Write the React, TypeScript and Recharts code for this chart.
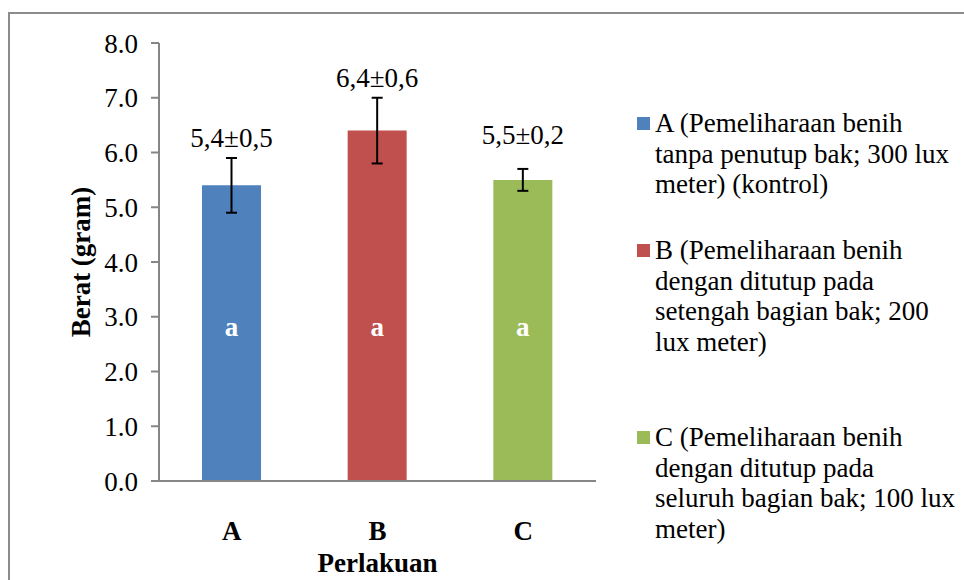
import { BarChart, Bar, XAxis, YAxis, Cell, ErrorBar, LabelList } from 'recharts';

// berat rata-rata benih per perlakuan
const perlakuan = ['A', 'B', 'C'];
const beratRata = [5.4, 6.4, 5.5];
const simpangan = [0.5, 0.6, 0.2];
const notasi = ['a', 'a', 'a'];
const warna = ['#4F81BD', '#C0504D', '#9BBB59'];
const yTicks = [0, 1, 2, 3, 4, 5, 6, 7, 8];
const keterangan = [
  ['A (Pemeliharaan benih', 'tanpa penutup bak; 300 lux', 'meter) (kontrol)'],
  ['B (Pemeliharaan benih', 'dengan ditutup pada', 'setengah bagian bak; 200', 'lux meter)'],
  ['C (Pemeliharaan benih', 'dengan ditutup pada', 'seluruh bagian bak; 100 lux', 'meter)'],
];

const data = perlakuan.map((p, i) => ({ perlakuan: p, berat: beratRata[i], sd: simpangan[i] }));

const FONT = '"Liberation Serif", "Times New Roman", serif';
const FS = 27;
const AXIS = '#868686';
const fmt = (v: number) => v.toFixed(1).replace('.', ',');

// teks rata-rata±SD di atas batang
const NilaiLabel = (props: any) => {
  const { x, y, width, height, index } = props;
  const ppu = height / beratRata[index];
  const atasError = y - simpangan[index] * ppu;
  const baseline = Math.min(atasError - 11, y - 36);
  return (
    <text x={x + width / 2} y={baseline} textAnchor="middle" fontFamily={FONT} fontSize={FS} fill="#000">
      {fmt(beratRata[index])}±{fmt(simpangan[index])}
    </text>
  );
};

// huruf notasi di dalam batang
const NotasiLabel = (props: any) => {
  const { x, y, width, height, index } = props;
  const ppu = height / beratRata[index];
  const bawah = y + height;
  return (
    <text x={x + width / 2} y={bawah - 2.65 * ppu} textAnchor="middle" fontFamily={FONT} fontSize={FS} fontWeight="bold" fill="#fff">
      {notasi[index]}
    </text>
  );
};

const KategoriTick = ({ x, y, payload }: any) => (
  <text x={x} y={y + 51} textAnchor="middle" fontFamily={FONT} fontSize={FS} fontWeight="bold" fill="#000">
    {payload.value}
  </text>
);

const JudulY = ({ viewBox }: any) => {
  const cx = viewBox.x + 90;
  const cy = viewBox.y + viewBox.height / 2;
  return (
    <text x={cx} y={cy} transform={`rotate(-90, ${cx}, ${cy})`} textAnchor="middle" fontFamily={FONT} fontSize={FS} fontWeight="bold" fill="#000">
      Berat (gram)
    </text>
  );
};

const JudulX = ({ viewBox }: any) => (
  <text x={viewBox.x + viewBox.width / 2} y={572} textAnchor="middle" fontFamily={FONT} fontSize={FS} fontWeight="bold" fill="#000">
    Perlakuan
  </text>
);

const Keterangan = () => {
  const tops = [108, 235, 422];
  return (
    <div style={{ position: 'absolute', left: 637, top: 0, width: 327, fontFamily: FONT, fontSize: FS, lineHeight: '30.5px', color: '#000' }}>
      {keterangan.map((baris, i) => (
        <div key={i} style={{ position: 'absolute', left: 0, top: tops[i] }}>
          <span style={{ position: 'absolute', left: 0, top: 9, width: 13, height: 13, background: warna[i] }} />
          <div style={{ marginLeft: 18, whiteSpace: 'nowrap' }}>
            {baris.map((t, j) => (
              <div key={j}>{t}</div>
            ))}
          </div>
        </div>
      ))}
    </div>
  );
};

export default function App() {
  return (
    <div style={{ position: 'absolute', left: 0, top: 0, width: 964, height: 580, overflow: 'hidden', background: '#fff' }}>
      <div style={{ position: 'absolute', left: 8, top: 12, width: 1000, height: 700, border: '2px solid #8c8c8c', boxSizing: 'border-box' }} />
      <BarChart
        width={964}
        height={580}
        data={data}
        margin={{ top: 43, right: 368, bottom: 0, left: 0 }}
        barSize={59}
        style={{ position: 'absolute', left: 0, top: 0 }}
      >
        <YAxis
          width={159}
          domain={[0, 8]}
          ticks={yTicks}
          interval={0}
          tickFormatter={(v: number) => v.toFixed(1)}
          axisLine={{ stroke: AXIS, strokeWidth: 2 }}
          tickLine={{ stroke: AXIS, strokeWidth: 2 }}
          tickSize={8}
          tickMargin={13}
          tick={{ fontFamily: FONT, fontSize: FS, fill: '#000' }}
          label={<JudulY />}
        />
        <XAxis
          dataKey="perlakuan"
          height={99}
          axisLine={{ stroke: AXIS, strokeWidth: 2 }}
          tickLine={false}
          tick={<KategoriTick />}
          label={<JudulX />}
        />
        <Bar dataKey="berat" isAnimationActive={false}>
          {data.map((_, i) => (
            <Cell key={i} fill={warna[i]} />
          ))}
          <ErrorBar dataKey="sd" width={5.5} stroke="#000" strokeWidth={2} direction="y" />
          <LabelList dataKey="berat" content={<NilaiLabel />} />
          <LabelList dataKey="berat" content={<NotasiLabel />} />
        </Bar>
      </BarChart>
      <Keterangan />
    </div>
  );
}
